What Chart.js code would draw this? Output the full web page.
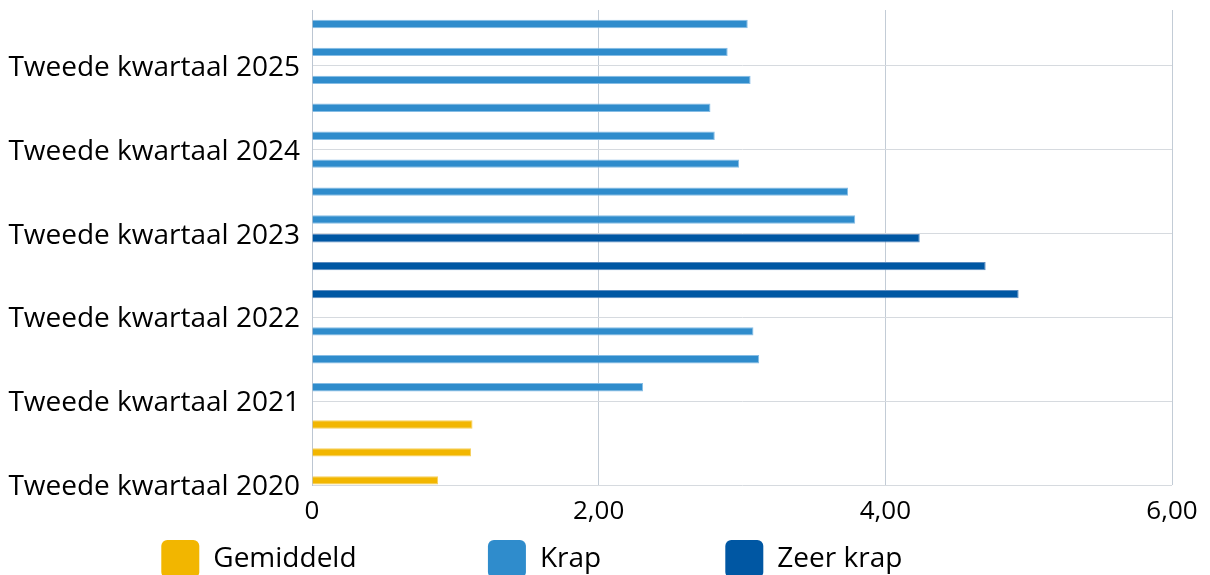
<!DOCTYPE html>
<html>
<head>
<meta charset="utf-8">
<script src="https://cdn.jsdelivr.net/npm/chart.js@4.4.0/dist/chart.umd.min.js"></script>
<style>
html,body{margin:0;padding:0;background:#ffffff;overflow:hidden}
canvas{display:block}
</style>
</head>
<body>
<canvas id="c" width="1210" height="575"></canvas>
<script>
// Categories from bottom (oldest) to top (newest); only every third carries a label
const categories = [
  'Tweede kwartaal 2020', '', '',
  'Tweede kwartaal 2021', '', '',
  'Tweede kwartaal 2022', '', '',
  'Tweede kwartaal 2023', '', '',
  'Tweede kwartaal 2024', '', '',
  'Tweede kwartaal 2025', ''
];
const gemiddeld = [0.88, 1.11, 1.12, null, null, null, null, null, null, null, null, null, null, null, null, null, null];
const krap      = [null, null, null, 2.31, 3.12, 3.08, null, null, null, 3.79, 3.74, 2.98, 2.81, 2.78, 3.06, 2.90, 3.04];
const zeerKrap  = [null, null, null, null, null, null, 4.93, 4.70, 4.24, null, null, null, null, null, null, null, null];
const xTickLabels = ['0', '2,00', '4,00', '6,00'];
const seriesNames = ['Gemiddeld', 'Krap', 'Zeer krap'];

const FONT = "'Open Sans', sans-serif";
const COLORS = { gem: '#f2b600', krap: '#2f8ccc', zeer: '#0057a3' };
const BORDERS = { gem: '#f6cf5c', krap: '#86bde5', zeer: '#5b8cc0' };
const legendItemWidths = { 'Gemiddeld': 308, 'Krap': 221, 'Zeer krap': 295 };

Chart.defaults.font.family = FONT;
Chart.defaults.color = '#000000';

new Chart(document.getElementById('c'), {
  type: 'bar',
  data: {
    labels: categories,
    datasets: [
      { label: seriesNames[2], data: zeerKrap, backgroundColor: COLORS.zeer, borderColor: BORDERS.zeer, borderWidth: 1 },
      { label: seriesNames[1], data: krap, backgroundColor: COLORS.krap, borderColor: BORDERS.krap, borderWidth: 1 },
      { label: seriesNames[0], data: gemiddeld, backgroundColor: COLORS.gem, borderColor: BORDERS.gem, borderWidth: 1 }
    ]
  },
  options: {
    indexAxis: 'y',
    responsive: false,
    animation: false,
    devicePixelRatio: 1,
    categoryPercentage: 1.0,
    barPercentage: 0.9,
    layout: { padding: { left: 8, right: 38, top: 10, bottom: -13 } },
    scales: {
      x: {
        min: 0, max: 6,
        grid: { color: '#c3ccd6', lineWidth: 1, drawTicks: false },
        border: { display: false },
        ticks: {
          stepSize: 2,
          padding: 11,
          font: { size: 26 },
          color: '#000',
          callback: (v, i) => xTickLabels[i]
        },
        afterFit: s => { s.height = 40; }
      },
      y: {
        reverse: true,
        grid: {
          drawTicks: false,
          color: c => (c.index !== undefined && c.index % 3 === 0 && c.index < categories.length) ? '#d6dadf' : 'rgba(0,0,0,0)'
        },
        border: { display: true, color: '#bcc6d2', width: 1 },
        ticks: {
          autoSkip: false,
          padding: 12,
          labelOffset: 16,
          font: { size: 28 },
          color: '#000'
        },
        afterFit: s => { s.width = 304; s.paddingTop = 0; s.paddingBottom = 0; }
      }
    },
    plugins: {
      tooltip: { enabled: false },
      legend: {
        position: 'bottom',
        reverse: true,
        labels: {
          boxWidth: 38,
          boxHeight: 38,
          padding: 15,
          useBorderRadius: true,
          borderRadius: 6,
          color: '#000',
          font: { size: 28 },
          generateLabels(chart) {
            const items = Chart.defaults.plugins.legend.labels.generateLabels(chart);
            const ctx = chart.ctx;
            ctx.save();
            ctx.font = '28px ' + FONT;
            const sp = ctx.measureText(' ').width;
            items.forEach(it => {
              const base = it.text;
              const target = legendItemWidths[base];
              const tw = ctx.measureText(base).width;
              const n = Math.max(0, Math.round((target - 38 - 14 - tw) / sp));
              it.text = base + ' '.repeat(n);
              it.lineWidth = 0;
            });
            ctx.restore();
            return items;
          }
        }
      }
    }
  }
});
</script>
</body>
</html>
